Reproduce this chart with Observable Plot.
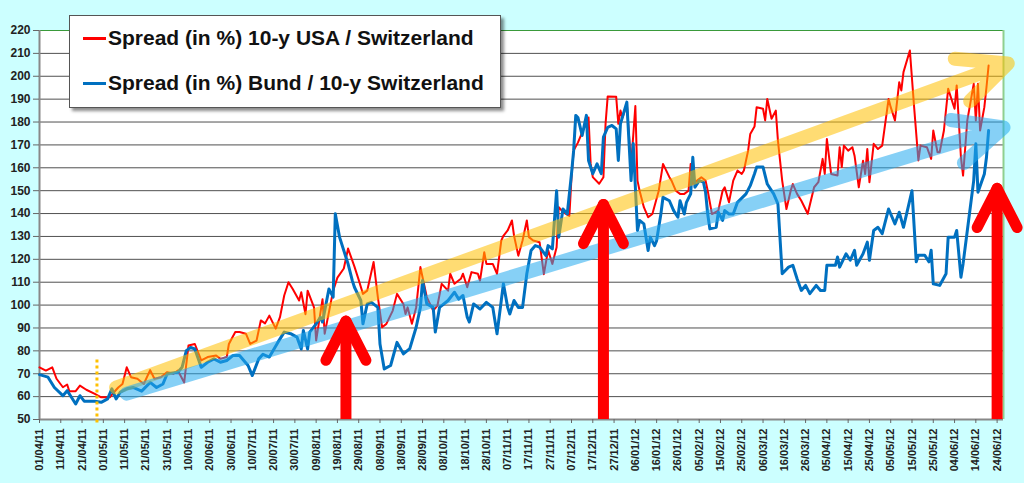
<!DOCTYPE html>
<html><head><meta charset="utf-8">
<script src="https://cdn.jsdelivr.net/npm/d3@7"></script>
<script src="https://cdn.jsdelivr.net/npm/@observablehq/plot@0.6"></script>
<style>
body{margin:0;background:#ccffff;}
#wrap{position:relative;width:1024px;height:483px;background:#ccffff;overflow:hidden;}
#legend{position:absolute;left:69px;top:15px;width:430px;height:91px;background:#fff;border:1px solid #555;box-shadow:3px 3px 3px rgba(0,0,0,0.45);font:bold 21px "Liberation Sans",Arial,sans-serif;color:#111;}
.row{position:absolute;left:13px;height:22px;display:flex;align-items:center;white-space:nowrap;}
.sw{display:inline-block;width:23px;height:3px;margin-right:2px;}
</style></head><body><div id="wrap"></div>
<script>
// ---- data (days counted from 01/04/11) ----
const seriesNames = ["Spread (in %) 10-y USA / Switzerland", "Spread (in %) Bund / 10-y Switzerland"];
const seriesColors = ["#ff0000", "#0070c0"];
const tickLabels = ["01/04/11","11/04/11","21/04/11","01/05/11","11/05/11","21/05/11","31/05/11","10/06/11","20/06/11","30/06/11","10/07/11","20/07/11","30/07/11","09/08/11","19/08/11","29/08/11","08/09/11","18/09/11","28/09/11","08/10/11","18/10/11","28/10/11","07/11/11","17/11/11","27/11/11","07/12/11","17/12/11","27/12/11","06/01/12","16/01/12","26/01/12","05/02/12","15/02/12","25/02/12","06/03/12","16/03/12","26/03/12","05/04/12","15/04/12","25/04/12","05/05/12","15/05/12","25/05/12","04/06/12","14/06/12","24/06/12"];
const yTicks = [50,60,70,80,90,100,110,120,130,140,150,160,170,180,190,200,210,220];
const xDomainDays = [0, 453];

const usDays = [0,3,6,8,11,13,14,17,19,22,26,29,33,35,37,39,41,43,46,49,52,54,57,60,63,65,68,70,73,76,79,83,85,88,89,92,94,97,99,102,104,106,108,111,113,115,117,119,122,123,125,126,129,130,133,134,138,140,143,145,148,150,152,154,157,159,161,163,166,168,171,172,173,175,177,179,180,182,185,187,189,192,193,195,198,199,201,203,206,207,209,210,213,215,217,218,220,222,223,225,227,229,230,232,235,237,239,241,243,244,246,249,250,251,253,256,258,259,260,263,265,266,267,271,272,273,274,276,278,280,281,282,284,286,288,291,293,296,297,299,301,303,305,306,307,311,313,314,316,319,321,322,324,326,328,330,331,333,334,336,337,340,341,342,344,346,347,349,351,353,354,356,358,361,364,366,368,369,370,372,375,376,377,378,380,382,383,385,387,388,389,390,392,394,396,399,400,402,404,405,406,409,411,413,414,417,419,420,422,423,425,427,430,431,433,434,436,439,440,441,442,444,445,446];
const usSpread = [72.8,71.4,72.8,67.8,64.1,65.3,62.4,62.4,64.8,63,61.2,59.7,59.7,61.9,64,65.5,72.8,68.5,67.8,65.5,71.6,67.8,68.5,70.7,70,71.4,66.2,82.3,83,75.8,77.3,78,76.5,77.3,83,88.2,88.2,87.5,83,84.5,93.3,92,95.4,89.7,94.7,104.2,110,107,102,105.6,96,106.3,99,84.5,102.6,87.5,106.3,112,116,124.7,116.8,111,104.9,106.3,118.8,103.5,90.3,91.8,97.6,104.9,100.5,96.1,99,91.8,99,116.6,112.2,103.5,97.6,99.8,109.3,106.3,113.7,109.3,111.5,113.7,107.8,114.4,113.7,110.7,123.1,118,118,113.7,128.2,130.3,132.6,137,130.3,121.6,128.2,137,129.7,128.2,127.5,113.5,124,118,125.3,142.8,140.6,139,155.9,167.5,171,177.7,182,161.7,155.9,153,155.9,179.2,191.2,191,179.2,185,182,188,161,187,154.4,150,142.8,138.4,139.8,150,161.7,155.9,154.4,150,148.6,148.6,150,161.7,153,155.9,154.4,150,139.8,141.3,150,151.5,144.9,154.4,158.8,157.3,158.8,167.5,174.8,178,186.5,185.8,180.7,190.1,181.4,185,171.9,154.4,142,150,152.9,148.6,145.6,139.9,151.5,153.7,163.9,157.3,172.6,157.3,156.6,169,160.3,169.7,167.5,169,165.3,151.5,163.1,157.3,168.2,153.7,170.5,168.2,169.7,190.1,186.5,180.7,197.4,193.8,201.8,211.3,186.5,163.2,169.7,169,163.9,176.3,166.8,166.8,176.3,194.5,185.8,196,164.6,156.6,180.7,196.7,180.7,196.7,176.3,186.5,195.2,204.7];

const bundDays = [0,4,7,11,13,15,17,19,21,26,29,32,34,36,38,41,44,48,52,55,58,60,65,67,69,71,73,76,79,82,85,88,91,94,98,100,103,105,108,112,115,118,121,123,124,126,127,130,132,133,136,138,139,141,144,145,147,148,151,152,154,156,159,160,162,165,168,171,174,177,179,180,182,185,186,188,192,195,197,199,201,202,204,207,210,213,215,217,218,220,221,223,225,227,229,231,233,235,238,239,241,243,244,246,248,250,251,252,253,255,257,258,260,262,264,265,267,269,271,272,273,276,278,279,281,282,284,286,287,289,290,292,293,296,298,300,301,303,304,306,307,308,310,312,313,314,315,318,319,321,322,324,326,328,332,334,336,337,340,342,345,347,349,352,354,356,358,360,362,365,367,369,370,374,375,376,379,381,383,384,387,389,390,392,394,396,399,400,402,404,406,410,412,413,416,418,419,420,423,426,427,430,431,433,434,436,439,440,441,444,445,446];
const bundSpread = [69.6,68.5,64,60.4,62.6,59.7,56.8,60.4,58,58,57.5,59,63.4,59,62,63.4,64,62.4,66.2,64,65.5,70,70.7,72.8,80.1,81.5,80.8,72.8,75,76.5,75,75.8,78,78,73.6,69.2,76.5,78.5,77.3,83.7,88.2,87.5,86,80.8,88.9,80.8,88.2,91.8,94.7,92.6,107,103.5,139.9,129.7,120.9,118,110.7,107.8,102,91.8,100.5,101.2,99,83,72.1,73.6,83.7,78.7,81,90.3,99,110.7,100.5,99,88.2,99,102,105.6,102.6,104.2,94.7,92.6,100.5,98.3,101.2,99,87.5,102,109.3,99,96.1,102,99,99,113.7,123.9,126,125.3,121.6,126,124.6,150,129.7,142,139.8,157.4,167.5,182.9,182,174.1,182.9,163.2,157.4,161.7,157.4,173.4,177.7,178.5,177,163.2,179.2,188.7,154.4,170.6,132.6,137,135.5,123.9,129.7,126,128.2,139.8,147.1,145.6,141.3,138.4,145.6,139.8,144.9,148.6,164.6,151.5,154.4,153.7,149.3,139.8,133.3,134,140.6,137,141.3,139.8,139.8,144.9,148.6,152.2,157.4,160.3,160.3,152.9,148.6,144.2,113.7,116.6,117.4,111.5,106.4,108.6,105,108.6,106.4,106.4,117.4,117.4,121,116.6,122.4,119.6,123.9,117.4,122.4,127.5,119.6,132.6,134,131.2,142,139.8,135.5,140.6,134,150,118.9,121.8,121.8,118.9,124,109.3,108.6,113.7,129.7,129.7,132.6,112.2,118,132.6,154.4,170.5,149.3,157.3,164.6,176.3];

// annotations
const trendStartDays = [36, 41];
const trendStartValues = [64, 61.3];
const trendEndDays = [455, 453];
const trendEndValues = [205.6, 177.6];
const trendColors = ["#ffc000", "#22aaee"];
const redArrowDays = [144, 265, 450];
const redArrowTips = [93, 144, 151];
const dottedDay = [27];
const dottedRange = [76, 47.4];

// ---- build ----
const toDate = d => new Date(Date.UTC(2011, 3, 1) + d * 86400000);
const parseTick = d3.utcParse("%d/%m/%y");
const tickDates = tickLabels.map(parseTick);
const us = usDays.map((d, i) => ({date: toDate(d), v: usSpread[i]}));
const bund = bundDays.map((d, i) => ({date: toDate(d), v: bundSpread[i]}));
const trends = trendStartDays.map((d, i) => ({x1: toDate(d), y1: trendStartValues[i], x2: toDate(trendEndDays[i]), y2: trendEndValues[i], c: trendColors[i]}));
const redArrows = redArrowDays.map((d, i) => ({date: toDate(d), base: 50, tip: redArrowTips[i]}));
const wings = redArrows.flatMap(a => [{...a, r: 153}, {...a, r: 207}]);
const dotted = dottedDay.map(d => ({date: toDate(d), a: dottedRange[0], b: dottedRange[1]}));
const xmin = toDate(xDomainDays[0]), xmax = toDate(xDomainDays[1]);
const wingShape = {draw(ctx, l) { ctx.moveTo(0, 0); ctx.lineTo(0, -l); }};

const chart = Plot.plot({
  width: 1024, height: 483,
  marginLeft: 39, marginRight: 21, marginTop: 30, marginBottom: 64,
  style: {background: "#ccffff", fontFamily: "'Liberation Sans', Arial, sans-serif", fontWeight: "bold", color: "#222", overflow: "visible"},
  x: {type: "utc", domain: [xmin, xmax]},
  y: {domain: [50, 220]},
  marks: [
    Plot.frame({fill: "white", stroke: "none"}),
    Plot.ruleY(yTicks.filter(v => v > 50 && v < 220), {stroke: "#505050", strokeWidth: 1}),
    Plot.ruleY([220], {stroke: "#3a9a3a", strokeWidth: 1}),
    Plot.ruleX([xmax], {stroke: "#8fcf8f", strokeWidth: 2}),
    Plot.ruleX([xmin], {stroke: "#888", strokeWidth: 2}),
    Plot.ruleY([50], {stroke: "#888", strokeWidth: 2}),
    Plot.line(us, {x: "date", y: "v", stroke: seriesColors[0], strokeWidth: 2}),
    Plot.line(bund, {x: "date", y: "v", stroke: seriesColors[1], strokeWidth: 3}),
    Plot.ruleX(dotted, {x: "date", y1: "a", y2: "b", stroke: "#ffc000", strokeWidth: 3, strokeDasharray: "3,3"}),
    ...trends.map(t => Plot.arrow([t], {x1: "x1", y1: "y1", x2: "x2", y2: "y2", stroke: t.c, strokeWidth: 14, strokeOpacity: 0.55, headLength: 5.7, headAngle: 50, strokeLinejoin: "round"})),
    Plot.ruleX(redArrows, {x: "date", y1: "base", y2: "tip", stroke: "#ff0000", strokeWidth: 11}),
    Plot.vector(wings, {x: "date", y: "tip", rotate: "r", length: 44, anchor: "start", shape: wingShape, stroke: "#ff0000", fill: "none", strokeWidth: 11, strokeLinecap: "round", strokeOpacity: 1}),
    Plot.axisY({ticks: yTicks, tickSize: 6, tickPadding: 3, fontSize: 12, label: null, stroke: "#666"}),
    Plot.axisX({ticks: tickDates, tickFormat: d3.utcFormat("%d/%m/%y"), tickRotate: -90, tickSize: 4, tickPadding: 5, fontSize: 11, label: null, stroke: "#666"})
  ]
});

const wrap = document.getElementById("wrap");
wrap.appendChild(chart);
const legend = document.createElement("div");
legend.id = "legend";
seriesNames.forEach((name, i) => {
  const row = document.createElement("div");
  row.className = "row";
  row.style.top = (11 + i * 45) + "px";
  const sw = document.createElement("span");
  sw.className = "sw";
  sw.style.background = seriesColors[i];
  const tx = document.createElement("span");
  tx.textContent = name;
  row.appendChild(sw); row.appendChild(tx);
  legend.appendChild(row);
});
wrap.appendChild(legend);
</script>
</body></html>
